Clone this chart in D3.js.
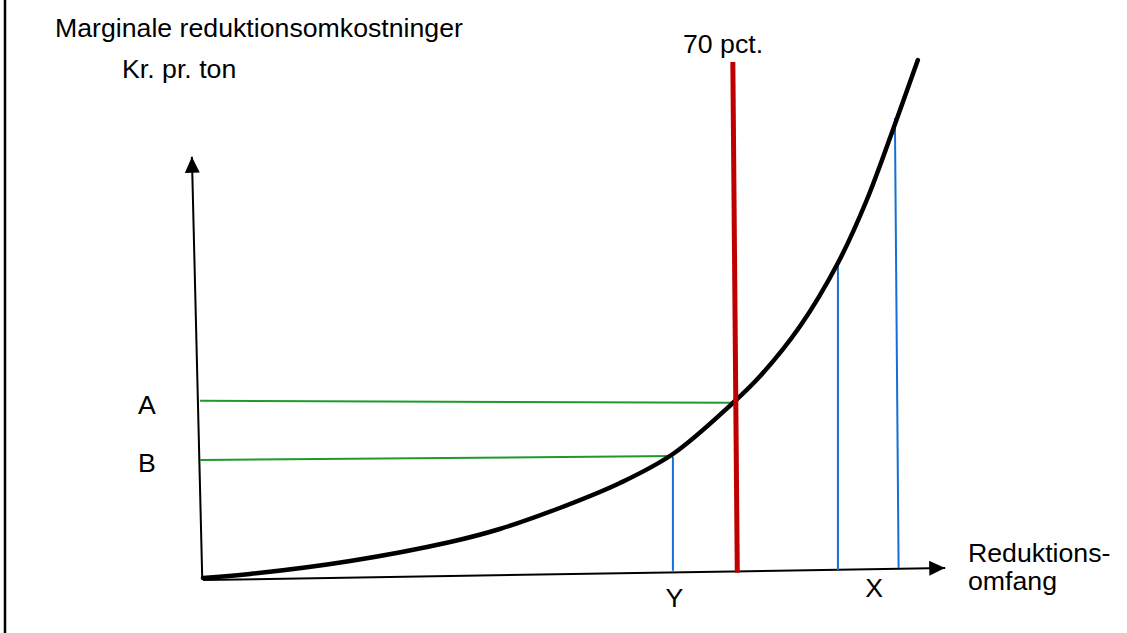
<!DOCTYPE html>
<html>
<head>
<meta charset="utf-8">
<script src="https://cdn.jsdelivr.net/npm/d3@7"></script>
<style>
  html, body { margin: 0; padding: 0; background: #fff; }
  svg { display: block; }
  text { font-family: "Liberation Sans", Arial, sans-serif; fill: #000; }
</style>
</head>
<body>
<svg id="chart" width="1127" height="633"></svg>
<script>
// ---- data (chart units: reduction 0-100, cost 0-130) ----
const reductionX = [0, 6.35, 19.9, 33.4, 40.1, 48.2, 56.35, 63.5, 71.6, 75.3, 80.7, 85.8, 89.7, 93.65, 96.6];
const costY      = [0, 1.0, 4.25, 9, 12.25, 17.5, 23.75, 31, 43.75, 50.5, 63, 78.75, 94.5, 114.2, 129.5];

// 70 pct. limit line (x at top, x at bottom, y top, y bottom)
const limitLabel = "70 pct.";
const limitX = [71.6, 72.2];
const limitY = [129, 1.3];

// horizontal cost levels A and B: [x0, y0, x1, y1]
const levelLabels = ["A", "B"];
const levelLines = [
  [-0.4, 44.3, 71.6, 43.8],
  [-0.4, 29.5, 63.5, 30.5]
];

// vertical drop lines: [xTop, yTop, xBottom, yBottom]
const dropLines = [
  [63.5, 30.3, 63.5, 1.8],
  [85.8, 78.8, 85.8, 2.0],
  [93.5, 115, 94.0, 2.5]
];
const dropLabels = ["Y", "X"];
const dropLabelX = [63.7, 90.7];

// axes: [x0, y0, x1, y1]
const yAxisLine = [-0.1, -0.3, -1.5, 105.3];
const xAxisLine = [0, -0.5, 100.3, 2.5];

const yTitle = ["Marginale reduktionsomkostninger", "Kr. pr. ton"];
const xTitle = ["Reduktions-", "omfang"];

// ---- drawing ----
const svg = d3.select("#chart");
const x = d3.scaleLinear().domain([0, 100]).range([203, 943]);
const y = d3.scaleLinear().domain([0, 130]).range([578, 58]);

// left frame line
svg.append("line").attr("x1", 5).attr("x2", 5).attr("y1", 0).attr("y2", 633)
  .attr("stroke", "#000").attr("stroke-width", 2.5);

const defs = svg.append("defs");
defs.append("marker").attr("id", "arrow")
  .attr("viewBox", "0 0 16 16").attr("refX", 16).attr("refY", 8)
  .attr("markerWidth", 16).attr("markerHeight", 16)
  .attr("markerUnits", "userSpaceOnUse").attr("orient", "auto")
  .append("path").attr("d", "M0,0.5 L16,8 L0,15.5 Z").attr("fill", "#000");

const seg = (g, d) => g.append("line")
  .attr("x1", x(d[0])).attr("y1", y(d[1])).attr("x2", x(d[2])).attr("y2", y(d[3]));

// axes
seg(svg, yAxisLine).attr("stroke", "#000").attr("stroke-width", 2).attr("marker-end", "url(#arrow)");
seg(svg, xAxisLine).attr("stroke", "#000").attr("stroke-width", 2).attr("marker-end", "url(#arrow)");

// green levels
levelLines.forEach(d => seg(svg, d).attr("stroke", "#1E9A2A").attr("stroke-width", 2));

// blue drops
dropLines.forEach(d => seg(svg, d).attr("stroke", "#1370D6").attr("stroke-width", 2));

// curve
const pts = reductionX.map((v, i) => [v, costY[i]]);
svg.append("path")
  .attr("d", d3.line().x(d => x(d[0])).y(d => y(d[1])).curve(d3.curveCatmullRom.alpha(0.5))(pts))
  .attr("fill", "none").attr("stroke", "#000").attr("stroke-width", 4.5)
  .attr("stroke-linecap", "round");

// red limit line
svg.append("line")
  .attr("x1", x(limitX[0])).attr("y1", y(limitY[0]))
  .attr("x2", x(limitX[1])).attr("y2", y(limitY[1]))
  .attr("stroke", "#C00000").attr("stroke-width", 5);

// texts
const fs = 26.7;
svg.append("text").attr("x", 55).attr("y", 37).attr("font-size", fs).text(yTitle[0]);
svg.append("text").attr("x", 122).attr("y", 78).attr("font-size", fs).text(yTitle[1]);
svg.append("text").attr("x", 723).attr("y", 53).attr("text-anchor", "middle").attr("font-size", fs).text(limitLabel);

svg.append("text").attr("x", 138).attr("y", 414).attr("font-size", fs).text(levelLabels[0]);
svg.append("text").attr("x", 138).attr("y", 472).attr("font-size", fs).text(levelLabels[1]);

dropLabels.forEach((t, i) => {
  svg.append("text").attr("x", x(dropLabelX[i])).attr("y", i === 0 ? 607 : 597)
    .attr("text-anchor", "middle").attr("font-size", fs).text(t);
});

svg.append("text").attr("x", 968).attr("y", 562).attr("font-size", fs).text(xTitle[0]);
svg.append("text").attr("x", 968).attr("y", 590).attr("font-size", fs).text(xTitle[1]);
</script>
</body>
</html>
